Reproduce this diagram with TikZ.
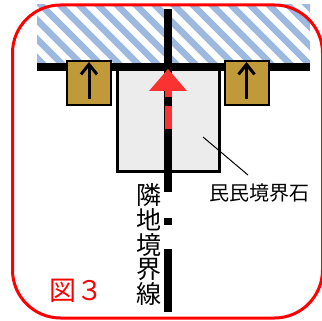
\documentclass[tikz,border=0pt]{standalone}
\usepackage{fontspec}
\newfontfamily\jpfont{Noto Sans CJK JP}
\usetikzlibrary{arrows.meta}

\definecolor{hatchblue}{RGB}{158,185,224}
\definecolor{pingold}{RGB}{192,154,56}
\definecolor{stonegray}{RGB}{236,236,236}
\definecolor{arrowred}{RGB}{250,50,50}

\tikzset{
  pin/.style={draw=black, line width=2pt, fill=pingold,
    minimum width=44pt, minimum height=44pt, inner sep=0pt},
  pinarrow/.style={line width=3pt, -{Straight Barb[length=10pt,width=16pt]}},
  stone/.style={draw=black, line width=3pt, fill=stonegray,
    minimum width=102pt, minimum height=106pt, inner sep=0pt},
  boundary/.style={line width=7.5pt},
}

\begin{document}
\begin{tikzpicture}[x=1pt,y=-1pt]
\useasboundingbox (0,0) rectangle (322,321);

%% neighbour land (hatched)
\begin{scope}
  \clip (37,5) rectangle (310,66);
  \foreach \i in {-40,-21,...,310}
    \draw[hatchblue, line width=6.5pt] (\i,0) -- ++(80,80);
\end{scope}

%% stone
\node[stone] (stone) at (168,119) {};

%% boundary lines
\draw[boundary] (168,9) -- (168,192);      %% upper part
\fill (164,218) rectangle (172,225);        %% dot
\draw[boundary] (168,249) -- (168,312);     %% lower part
\draw[line width=8pt] (37,67) -- (310,67); %% road edge

%% red arrow
\fill[arrowred] (168,69) -- (187,91) -- (149,91) -- cycle;
\fill[arrowred] (165,91) rectangle (172,97);
\fill[arrowred] (165,106) rectangle (172,129);

%% pins
\node[pin] (pinL) at (89,83) {};
\node[pin] (pinR) at (246.5,83) {};
\draw[pinarrow] ([yshift=7pt]pinL.south) -- ([yshift=-2pt]pinL.north);
\draw[pinarrow] ([yshift=7pt]pinR.south) -- ([yshift=-2pt]pinR.north);

%% labels
\node[font=\jpfont\fontsize{20}{20}\selectfont] (lbl) at (259,193) {民民境界石};
\coordinate (lead) at (203,137);
\coordinate (leadend) at (248,175);
\draw[line width=1pt] (lead) -- (leadend);

\node[font=\jpfont\fontsize{25}{25}\selectfont, align=center, inner sep=0pt]
  (bnd) at (149,244.5) {隣\\地\\境\\界\\線};

\node[font=\jpfont\fontsize{27}{27}\selectfont, text=red] (fig) at (76,291) {図３};

%% frame
\draw[red, line width=3pt, rounded corners=48pt] (12.5,5) rectangle (322.5,318);
\end{tikzpicture}
\end{document}
